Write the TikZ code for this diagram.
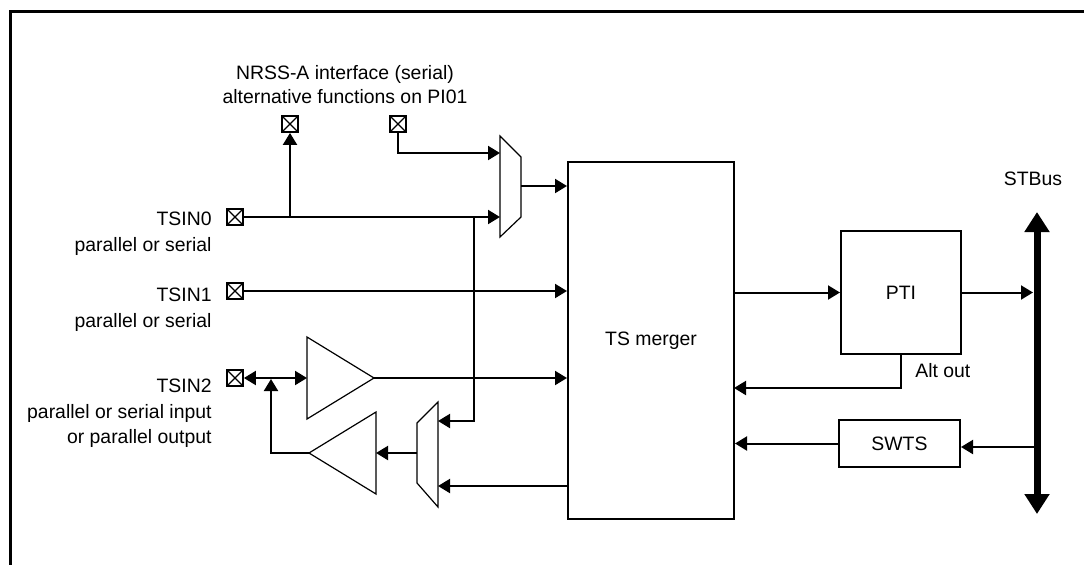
\documentclass[tikz,border=0pt]{standalone}
\usepackage{fontspec}
\setmainfont{Liberation Sans}
\usetikzlibrary{arrows.meta}
\begin{document}
\begin{tikzpicture}[x=0.5pt,y=-0.5pt,
  every node/.style={font=\fontsize{9.7}{12}\selectfont},
  conn/.style={line width=1pt},
  arr/.style={conn,-{Triangle[length=6pt,width=7pt]}},
  larr/.style={conn,{Triangle[length=6pt,width=7pt]}-{Triangle[length=6pt,width=7pt]}},
  pinbox/.style={draw,line width=0.9pt,minimum size=8pt,inner sep=0pt,
    path picture={\draw[line width=0.6pt]
      (path picture bounding box.north west)--(path picture bounding box.south east)
      (path picture bounding box.north east)--(path picture bounding box.south west);}},
  blockbox/.style={draw,line width=1pt,inner sep=0pt},
  shapeline/.style={line width=0.6pt},
  lbl/.style={anchor=base east,inner sep=0pt},
  ctext/.style={anchor=base,inner sep=0pt},
]
\useasboundingbox (0,0) rectangle (1084,564);
% frame
\draw[line width=1.5pt] (10,600) -- (10,11) -- (1100,11);

% pins
\node[pinbox] (pinA) at (290,124) {};
\node[pinbox] (pinB) at (398,124) {};
\node[pinbox] (pin0) at (235,217) {};
\node[pinbox] (pin1) at (235,291) {};
\node[pinbox] (pin2) at (235,378) {};

% labels
\node[ctext] (nrss1) at (345,79) {NRSS-A interface (serial)};
\node[ctext] (nrss2) at (345,103) {alternative functions on PI01};
\node[lbl] (l0a) at (212,225) {TSIN0};
\node[lbl] (l0b) at (212,251) {parallel or serial};
\node[lbl] (l1a) at (212,301) {TSIN1};
\node[lbl] (l1b) at (212,327) {parallel or serial};
\node[lbl] (l2a) at (212,392) {TSIN2};
\node[lbl] (l2b) at (212,418) {parallel or serial input};
\node[lbl] (l2c) at (212,443) {or parallel output};
\node[ctext] (stbus) at (1033,185) {STBus};
\node[anchor=base west,inner sep=0pt] (alt) at (915,377) {Alt out};

% blocks
\node[blockbox,minimum width=83pt,minimum height=178.5pt] (ts) at (651,340.5) {TS merger};
\node[blockbox,minimum width=60pt,minimum height=61.5pt] (pti) at (901,292.5) {PTI};
\node[blockbox,minimum width=60.5pt,minimum height=23.5pt] (swts) at (899.5,443.5) {SWTS};

% mux1
\draw[shapeline] (500,136) -- (521,157) -- (521,217) -- (500,237) -- cycle;
\coordinate (m1a) at (500,153);
\coordinate (m1b) at (500,217);
\coordinate (m1o) at (521,186);
% buffer1
\draw[shapeline] (307,337) -- (374,378) -- (307,419) -- cycle;
\coordinate (b1i) at (307,378);
\coordinate (b1o) at (374,378);
% buffer2
\draw[shapeline] (376,412) -- (309,453) -- (376,494) -- cycle;
\coordinate (b2i) at (376,453);
\coordinate (b2o) at (309,453);
% mux2
\draw[shapeline] (417,423) -- (438,402) -- (438,507) -- (417,483) -- cycle;
\coordinate (m2a) at (438,421);
\coordinate (m2b) at (438,486);
\coordinate (m2o) at (417,453);

% junctions
\coordinate (j0) at (290,217);
\coordinate (j1) at (474,217);
\coordinate (j2) at (271,379);

% connectors left
\draw[arr] (pinB.south) |- (m1a);
\draw[arr] (pin0.east) -- (m1b);
\draw[arr] (j0) -- (pinA.south);
\draw[arr] (j1) |- (m2a);
\draw[arr] (m1o) -- (m1o -| ts.west);
\draw[arr] (pin1.east) -- (pin1.east -| ts.west);
\draw[larr] (pin2.east) -- (b1i);
\draw[arr] (b1o) -- (b1o -| ts.west);
\draw[arr] (m2o) -- (b2i);
\draw[arr] (m2b -| ts.west) -- (m2b);
\draw[arr] (b2o) -| (j2);

% bus
\coordinate (bt) at (1037,212);
\coordinate (bb) at (1037,514);
\draw[line width=3.5pt,{Triangle[length=10pt,width=12pt]}-{Triangle[length=10pt,width=12pt]}] (bt) -- (bb);

% connectors right
\draw[arr] (ts.east |- pti.west) -- (pti.west);
\draw[arr,shorten >=2pt] (pti.east) -- (pti.east -| bt);
\coordinate (bs) at (1037,447);
\draw[arr] (bs) -- (bs -| swts.east);
\draw[arr] (swts.west) -- (swts.west -| ts.east);
\coordinate (ao) at (734,388);
\draw[arr] (pti.south) |- (ao);
\end{tikzpicture}
\end{document}
